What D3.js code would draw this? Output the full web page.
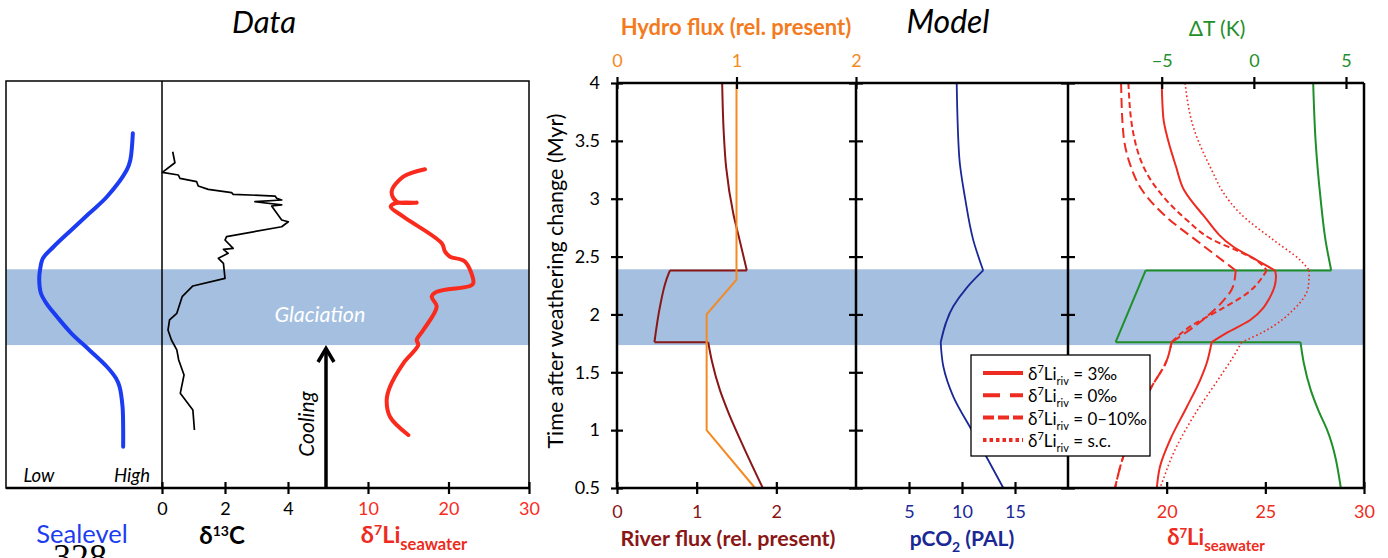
<!DOCTYPE html>
<html>
<head>
<meta charset="utf-8">
<script src="https://cdn.jsdelivr.net/npm/d3@7"></script>
<style>
  body { margin: 0; background: #fff; }
  svg text { font-family: Lato, "Open Sans", sans-serif; }
</style>
</head>
<body>
<div id="chart"></div>
<script>
// time after weathering change (Myr)
var timeTicks = [0.5, 1, 1.5, 2, 2.5, 3, 3.5, 4]
var glaciation = [1.735, 2.39]
var kinks = [2.38, 1.76]

// ---- Data panel: [time, value]
// sea level index (0 = low, 10 = high)
var seaLevel = [[3.565, 8.13], [3.335, 7.97], [3.248, 7.74], [3.017, 6.47], [2.874, 5.34], [2.73, 4.19],
  [2.585, 3.05], [2.485, 2.37], [2.384, 2.18], [2.298, 2.13], [2.183, 2.24], [2.096, 2.59], [1.98, 3.27],
  [1.837, 4.19], [1.693, 5.34], [1.548, 6.47], [1.448, 7.05], [1.375, 7.28], [1.203, 7.47], [1.03, 7.51], [0.857, 7.51]]
var d13C = [[3.406, 0.34], [3.311, 0.41], [3.228, 0.01], [3.205, 0.52], [3.176, 0.57], [3.147, 1.10], [3.11, 1.15],
  [3.081, 1.47], [3.052, 2.21], [3.038, 2.26], [3.023, 3.59], [3.004, 3.64], [2.989, 3.80], [2.974, 2.95],
  [2.946, 3.80], [2.937, 3.48], [2.816, 3.80], [2.801, 4.01], [2.758, 3.80], [2.672, 2.05], [2.643, 2.0],
  [2.571, 2.26], [2.563, 1.95], [2.528, 2.10], [2.485, 1.79], [2.442, 1.95], [2.312, 2.0], [2.246, 0.98],
  [2.153, 0.64], [2.01, 0.47], [1.952, 0.24], [1.865, 0.19], [1.779, 0.30], [1.693, 0.47], [1.606, 0.53],
  [1.477, 0.70], [1.318, 0.58], [1.174, 0.98], [1.001, 1.03]]
var liData = [[3.254, 17.08], [3.19, 14.39], [3.061, 12.94], [2.974, 13.57], [2.966, 16.05], [2.96, 13.35],
  [2.931, 12.82], [2.845, 14.39], [2.615, 19.16], [2.542, 19.57], [2.499, 20.19], [2.456, 22.05], [2.269, 23.08],
  [2.246, 22.67], [2.196, 18.53], [2.153, 17.91], [2.067, 18.53], [1.865, 16.87], [1.779, 16.05], [1.736, 16.25],
  [1.578, 14.39], [1.375, 12.73], [1.26, 12.32], [1.116, 12.73], [0.958, 15.01]]

// ---- Model panel: [time, value]
var riverFlux = [[4, 1.32], [3.57, 1.34], [3.27, 1.37], [2.87, 1.46], [2.64, 1.54], [2.38, 1.63], [2.38, 0.665],
  [2.3, 0.62], [2.07, 0.54], [1.76, 0.47], [1.76, 1.145], [1.6, 1.19], [1.35, 1.29], [1.15, 1.40], [0.86, 1.585], [0.5, 1.83]]
var hydroFlux = [[4, 1.0], [2.3, 1.0], [2.0, 0.75], [1.0, 0.75], [0.5, 1.155]]
var pco2 = [[4, 9.5], [3.36, 9.74], [3.0, 10.3], [2.64, 11.07], [2.38, 12.0], [2.23, 10.44], [2.07, 9.18],
  [1.76, 7.99], [1.55, 8.24], [1.29, 9.18], [1.0, 10.92], [0.74, 12.48], [0.5, 13.9]]
var deltaT = [[4, 3.22], [3.5, 3.35], [3.0, 3.62], [2.64, 3.89], [2.38, 4.2], [2.38, -5.87], [1.76, -7.5],
  [1.76, 2.53], [1.58, 2.71], [1.35, 3.08], [1.16, 3.53], [1.0, 3.98], [0.5, 4.72]]
var li3 = [[4, 19.75], [3.7, 19.83], [3.5, 20.08], [3.28, 20.47], [3.075, 20.88], [2.86, 21.84], [2.585, 23.38],
  [2.47, 24.56], [2.38, 25.49], [2.33, 25.54], [2.15, 25.24], [1.95, 24.22], [1.84, 23.04], [1.76, 22.28],
  [1.58, 22.03], [1.43, 21.69], [1.2, 21.02], [0.915, 20.17], [0.684, 19.66], [0.5, 19.5]]
var li0 = [[4, 17.69], [3.57, 17.8], [3.31, 18.12], [3.075, 18.75], [2.845, 19.97], [2.615, 21.69], [2.38, 23.5],
  [2.24, 23.36], [2.1, 22.77], [1.92, 21.59], [1.76, 20.25], [1.6, 20.0], [1.35, 19.16], [1.06, 18.48], [0.77, 17.8], [0.5, 17.38]]
var li010 = [[4, 18.06], [3.565, 18.31], [3.12, 19.36], [2.816, 21.02], [2.643, 22.35], [2.54, 23.72], [2.47, 24.53],
  [2.38, 25.07], [2.18, 24.06], [2.04, 22.7], [1.894, 21.18], [1.76, 20.25], [1.6, 20.0], [1.35, 19.16],
  [1.06, 18.48], [0.77, 17.8], [0.5, 17.38]]
var liSC = [[4, 20.93], [3.62, 21.35], [3.22, 22.36], [3.075, 22.79], [2.874, 23.72], [2.643, 25.41], [2.47, 26.76],
  [2.38, 27.23], [2.24, 27.18], [2.04, 26.42], [1.865, 25.07], [1.76, 23.8], [1.635, 23.38], [1.46, 22.7],
  [1.116, 21.35], [0.8, 20.34], [0.54, 19.75], [0.5, 19.66]]
var legendLabels = ["3‰", "0‰", "0–10‰", "s.c."]

var c = {
  band: "#a4bfdf", blue: "#1c3cf2", dataRed: "#fa2a1c", red: "#ee2b20", darkRed: "#8a1616",
  orange: "#f58a23", orangeTitle: "#f47a20", navy: "#1a2896", green: "#1f8f2a"
}

var svg = d3.select("#chart").append("svg")
  .attr("width", 1388).attr("height", 558)

var y = d3.scaleLinear().domain([0.5, 4]).range([488, 83])

// left scales
var xSea = d3.scaleLinear().domain([0, 10]).range([6, 162])
var xC13 = d3.scaleLinear().domain([0, 4]).range([162, 288])
var xLiD = d3.scaleLinear().domain([10, 30]).range([368, 529])
// right scales
var xRiver = d3.scaleLinear().domain([0, 3]).range([617, 856])
var xHydro = d3.scaleLinear().domain([0, 2]).range([617, 856])
var xCO2 = d3.scaleLinear().domain([0, 20]).range([856, 1068])
var xLi = d3.scaleLinear().domain([15, 30]).range([1068, 1364])
var xDT = d3.scaleLinear().domain([-5, 5]).range([1161.7, 1346])

// titles
svg.append("text").attr("x", 264).attr("y", 33).attr("text-anchor", "middle")
  .style("font-size", "31px").style("font-style", "italic").text("Data")
svg.append("text").attr("x", 948).attr("y", 33).attr("text-anchor", "middle")
  .style("font-size", "32px").style("font-style", "italic").text("Model")

// ================= Data panel
var L = svg.append("g")
L.append("rect").attr("x", 6).attr("width", 523)
  .attr("y", y(glaciation[1])).attr("height", y(glaciation[0]) - y(glaciation[1]))
  .attr("fill", c.band)
L.append("rect").attr("x", 6).attr("y", 81).attr("width", 523).attr("height", 407)
  .attr("fill", "none").attr("stroke", "#000").attr("stroke-width", 1.5)
L.append("line").attr("x1", 162).attr("x2", 162).attr("y1", 81).attr("y2", 488)
  .attr("stroke", "#000").attr("stroke-width", 1.5)

L.append("text").attr("x", 320).attr("y", 322).attr("text-anchor", "middle")
  .style("font-size", "21.5px").style("font-style", "italic").attr("fill", "#fff").text("Glaciation")

L.append("path")
  .attr("d", d3.line().x(d => xSea(d[1])).y(d => y(d[0])).curve(d3.curveCatmullRom)(seaLevel))
  .attr("fill", "none").attr("stroke", c.blue).attr("stroke-width", 4).attr("stroke-linecap", "round")
L.append("path")
  .attr("d", d3.line().x(d => xC13(d[1])).y(d => y(d[0]))(d13C))
  .attr("fill", "none").attr("stroke", "#000").attr("stroke-width", 1.7).attr("stroke-linejoin", "round")
L.append("path")
  .attr("d", d3.line().x(d => xLiD(d[1])).y(d => y(d[0])).curve(d3.curveCatmullRom)(liData))
  .attr("fill", "none").attr("stroke", c.dataRed).attr("stroke-width", 4).attr("stroke-linecap", "round")
  .attr("stroke-linejoin", "round")

// cooling arrow
L.append("line").attr("x1", 326).attr("x2", 326).attr("y1", 488).attr("y2", 349)
  .attr("stroke", "#000").attr("stroke-width", 3.5)
L.append("path").attr("d", "M318,362L326,348.5L334,362").attr("fill", "none")
  .attr("stroke", "#000").attr("stroke-width", 3.5)
L.append("text").attr("transform", "translate(314,424) rotate(-90)").attr("text-anchor", "middle")
  .style("font-size", "21px").style("font-style", "italic").text("Cooling")

L.append("text").attr("x", 39).attr("y", 482).attr("text-anchor", "middle")
  .style("font-size", "18.5px").style("font-style", "italic").text("Low")
L.append("text").attr("x", 132).attr("y", 482).attr("text-anchor", "middle")
  .style("font-size", "18.5px").style("font-style", "italic").text("High")

// bottom axis of data panel
L.append("line").attr("x1", 6).attr("x2", 529).attr("y1", 488).attr("y2", 488)
  .attr("stroke", "#000").attr("stroke-width", 2.5)

function crossAxis(g, axis, ty, textY, color) {
  var a = g.append("g").attr("transform", "translate(0," + ty + ")").call(axis)
  a.select(".domain").remove()
  a.selectAll(".tick line").attr("y1", -6).attr("y2", 6).attr("stroke", "#000").attr("stroke-width", 2.2)
  a.selectAll(".tick text").attr("y", textY).attr("dy", null).attr("fill", color)
    .style("font-size", "18px").style("font-family", "Lato, sans-serif")
  return a
}
crossAxis(L, d3.axisBottom(xC13).tickValues([0, 2, 4]).tickFormat(d3.format("d")), 488, 27, "#000")
crossAxis(L, d3.axisBottom(xLiD).tickValues([10, 20, 30]).tickFormat(d3.format("d")), 488, 27, c.dataRed)

L.append("text").attr("x", 82).attr("y", 543).attr("text-anchor", "middle")
  .style("font-size", "25.5px").attr("fill", c.blue).text("Sealevel")
L.append("text").attr("x", 80).attr("y", 569).attr("text-anchor", "middle")
  .style("font-size", "36px").style("font-family", "'Liberation Serif', serif").text("328")

var t13 = L.append("text").attr("x", 222).attr("y", 544).attr("text-anchor", "middle")
  .style("font-size", "24px").style("font-weight", "bold")
t13.append("tspan").text("δ")
t13.append("tspan").attr("dy", -8).style("font-size", "14px").text("13")
t13.append("tspan").attr("dy", 8).text("C")

function liLabel(g, x, yb, fs, sub) {
  var t = g.append("text").attr("x", x).attr("y", yb).attr("text-anchor", "middle")
    .style("font-size", fs + "px").style("font-weight", "bold").attr("fill", c.red)
  t.append("tspan").text("δ")
  t.append("tspan").attr("dy", -fs * 0.33).style("font-size", (fs * 0.6) + "px").text("7")
  t.append("tspan").attr("dy", fs * 0.33).text("Li")
  t.append("tspan").attr("dy", fs * 0.28).style("font-size", sub + "px").text("seawater")
}
liLabel(L, 414, 543, 23.5, 16.5)

// ================= Model panel
var R = svg.append("g")
R.append("rect").attr("x", 617).attr("width", 747)
  .attr("y", y(glaciation[1])).attr("height", y(glaciation[0]) - y(glaciation[1]))
  .attr("fill", c.band)

function drawSeries(pts, xs, color, width, dash) {
  var line = d3.line().x(d => xs(d[1])).y(d => y(d[0])).curve(d3.curveMonotoneY)
  var segs = [], cur = [pts[0]]
  for (var i = 1; i < pts.length; i++) {
    var p = pts[i], q = pts[i - 1]
    if (p[0] === q[0]) {
      if (cur.length > 1) segs.push(cur)
      segs.push([q, p])
      cur = [p]
    } else {
      cur.push(p)
      if (kinks.indexOf(p[0]) >= 0) { segs.push(cur); cur = [p] }
    }
  }
  if (cur.length > 1) segs.push(cur)
  R.append("path").attr("d", segs.map(s => line(s)).join(""))
    .attr("fill", "none").attr("stroke", color).attr("stroke-width", width)
    .attr("stroke-dasharray", dash || null)
}

drawSeries(riverFlux, xRiver, c.darkRed, 2)
R.append("path").attr("d", d3.line().x(d => xHydro(d[1])).y(d => y(d[0]))(hydroFlux))
  .attr("fill", "none").attr("stroke", c.orange).attr("stroke-width", 2)
drawSeries(pco2, xCO2, c.navy, 1.8)
drawSeries(deltaT, xDT, c.green, 2)
var liStyles = [null, "10,5", "6,3.5", "1.6,2.6"]
var liWidths = [2, 2, 2, 1.6]
;[li3, li0, li010, liSC].forEach(function(s, i) { drawSeries(s, xLi, c.red, liWidths[i], liStyles[i]) })

// frame
var frame = [[617, 83, 1364, 83], [617, 488, 1364, 488], [617, 83, 617, 488], [856, 83, 856, 488],
  [1068, 83, 1068, 488], [1364, 83, 1364, 488]]
R.selectAll(".frame").data(frame).enter().append("line")
  .attr("x1", d => d[0]).attr("y1", d => d[1]).attr("x2", d => d[2]).attr("y2", d => d[3])
  .attr("stroke", "#000").attr("stroke-width", 2.5)

// y axis
var ya = R.append("g").attr("transform", "translate(617,0)")
  .call(d3.axisLeft(y).tickValues(timeTicks).tickFormat(d => d))
ya.select(".domain").remove()
ya.selectAll(".tick line").attr("x1", -6).attr("x2", 6).attr("stroke-width", 2.2)
ya.selectAll(".tick text").attr("x", -17).style("font-size", "18px").style("font-family", "Lato, sans-serif")
;[856, 1068].forEach(function(xp) {
  var a = R.append("g").attr("transform", "translate(" + xp + ",0)")
    .call(d3.axisLeft(y).tickValues(timeTicks).tickFormat(""))
  a.select(".domain").remove()
  a.selectAll(".tick line").attr("x1", -7).attr("x2", 7).attr("stroke-width", 2.2)
})

// bottom axes
crossAxis(R, d3.axisBottom(xRiver).tickValues([0, 1, 2]).tickFormat(d3.format("d")), 488, 30, c.darkRed)
crossAxis(R, d3.axisBottom(xCO2).tickValues([5, 10, 15]).tickFormat(d3.format("d")), 488, 30, c.navy)
crossAxis(R, d3.axisBottom(xLi).tickValues([20, 25, 30]).tickFormat(d3.format("d")), 488, 30, c.red)
// top axes
crossAxis(R, d3.axisTop(xHydro).tickValues([0, 1, 2]).tickFormat(d3.format("d")), 83, -16, c.orange)
crossAxis(R, d3.axisTop(xDT).tickValues([-5, 0, 5]).tickFormat(d3.format("d")), 83, -16, c.green)

R.append("text").attr("x", 736).attr("y", 35).attr("text-anchor", "middle")
  .style("font-size", "22px").style("font-weight", "bold").attr("fill", c.orangeTitle)
  .text("Hydro flux (rel. present)")
R.append("text").attr("x", 1217).attr("y", 36).attr("text-anchor", "middle")
  .style("font-size", "21px").attr("fill", c.green).text("ΔT (K)")
R.append("text").attr("x", 728).attr("y", 546).attr("text-anchor", "middle")
  .style("font-size", "21.5px").style("font-weight", "bold").attr("fill", c.darkRed)
  .text("River flux (rel. present)")
var tc = R.append("text").attr("x", 962).attr("y", 546).attr("text-anchor", "middle")
  .style("font-size", "21px").style("font-weight", "bold").attr("fill", c.navy)
tc.append("tspan").text("pCO")
tc.append("tspan").attr("dy", 6).style("font-size", "14px").text("2")
tc.append("tspan").attr("dy", -6).text(" (PAL)")
liLabel(R, 1216, 545, 22, 15)

R.append("text").attr("transform", "translate(563,281) rotate(-90)").attr("text-anchor", "middle")
  .style("font-size", "21.5px").text("Time after weathering change (Myr)")

// legend
var lg = R.append("g")
lg.append("rect").attr("x", 971).attr("y", 355).attr("width", 179).attr("height", 101)
  .attr("fill", "#fff").attr("stroke", "#000").attr("stroke-width", 1.3)
var legDash = [null, "17,10", "11,4", "3.5,3"]
legendLabels.forEach(function(lab, i) {
  var ry = 373 + i * 22.3
  lg.append("line").attr("x1", 983).attr("x2", 1023).attr("y1", ry).attr("y2", ry)
    .attr("stroke", c.red).attr("stroke-width", 4).attr("stroke-dasharray", legDash[i])
  var t = lg.append("text").attr("x", 1028).attr("y", ry + 7).style("font-size", "17px")
  t.append("tspan").text("δ")
  t.append("tspan").attr("dy", -7).style("font-size", "11px").text("7")
  t.append("tspan").attr("dy", 7).text("Li")
  t.append("tspan").attr("dy", 5).style("font-size", "11px").text("riv")
  t.append("tspan").attr("dy", -5).text(" = " + lab)
})
</script>
</body>
</html>
